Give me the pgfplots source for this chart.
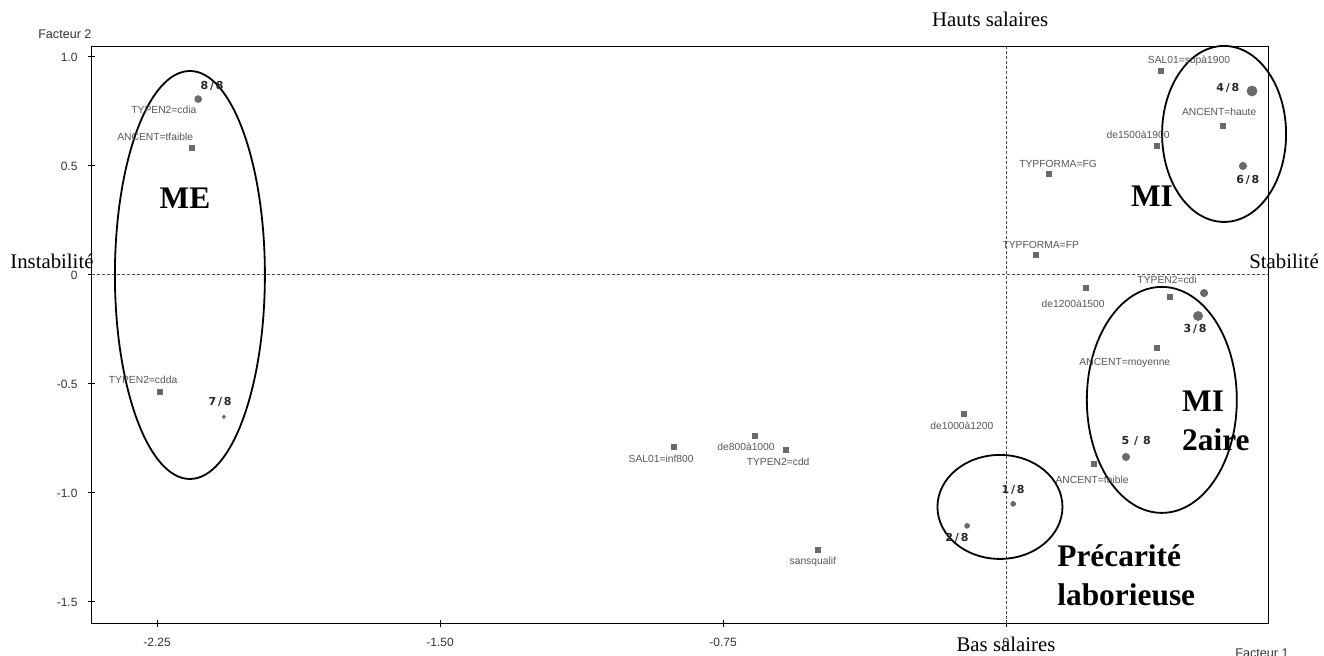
\documentclass[border=0pt]{standalone}
\usepackage{fontspec}
\setmainfont{Liberation Serif}
\newfontfamily\sans{Liberation Sans}
\newfontfamily\djs{DejaVu Sans}
\usepackage{pgfplots}
\pgfplotsset{compat=1.18}
\definecolor{lab}{HTML}{555555}
\definecolor{mk}{HTML}{6A6A6A}
\newcommand\fr[2]{#1\kern0.9pt/\kern0.9pt#2}
\begin{document}
\begin{tikzpicture}[
  lbl/.style={font=\sans\fontsize{5.15}{6}\selectfont, text=lab, inner sep=0pt},
  num/.style={font=\djs\bfseries\fontsize{5.5}{6}\selectfont, text=black!85, inner sep=0pt},
  big/.style={font=\bfseries\fontsize{15.7}{17}\selectfont, inner sep=0pt},
  outer/.style={font=\fontsize{10.4}{12}\selectfont, inner sep=0pt},
  sml/.style={font=\sans\fontsize{6.3}{7}\selectfont, text=black!80, inner sep=0pt}
]
\begin{axis}[
  at={(0,0)}, anchor=south west,
  scale only axis, width=588pt, height=288.5pt,
  xmin=-2.4225, xmax=0.6944, ymin=-1.601, ymax=1.0459,
  clip=false,
  axis line style={line width=0.5pt},
  xtick={-2.25,-1.5,-0.75,0}, xticklabels={-2.25,-1.50,-0.75,0},
  ytick={-1.5,-1,-0.5,0,0.5,1}, yticklabels={-1.5,-1.0,-0.5,0,0.5,1.0},
  xtick pos=left, ytick pos=left,
  tick align=center, major tick length=3.5pt,
  tick style={black, line width=0.5pt},
  ticklabel style={font=\sans\fontsize{6}{7}\selectfont, text=black!80},
  xticklabel style={yshift=-2pt},
  yticklabel style={xshift=-2pt},
]
% reference lines
\addplot[black!70, line width=0.5pt, dash pattern=on 1.5pt off 1pt] coordinates {(-2.4225,0) (0.6944,0)};
\addplot[black!70, line width=0.5pt, dash pattern=on 1.5pt off 1pt] coordinates {(0,-1.601) (0,1.0459)};
% modalities (squares)
\addplot[only marks, mark=square*, mark size=1.25pt, mk, mark options={draw=mk, fill=mk}] coordinates {
 (-2.157,0.583) (-2.242,-0.537) (-0.880,-0.789) (-0.665,-0.739) (-0.583,-0.803)
 (-0.498,-1.261) (-0.111,-0.638) (0.233,-0.867) (0.400,-0.335) (0.435,-0.101)
 (0.212,-0.060) (0.080,0.092) (0.114,0.465) (0.400,0.592) (0.411,0.937) (0.575,0.684)
};
% classes (circles)
\addplot[only marks, mark=*, mark size=2.5pt, mk, mark options={draw=mk, fill=mk}] coordinates {(0.652,0.844)};
\addplot[only marks, mark=*, mark size=2.25pt, mk, mark options={draw=mk, fill=mk}] coordinates {(0.509,-0.188)};
\addplot[only marks, mark=*, mark size=1.8pt, mk, mark options={draw=mk, fill=mk}] coordinates {(0.318,-0.835) (0.525,-0.083) (0.628,0.500)};
\addplot[only marks, mark=*, mark size=1.7pt, mk, mark options={draw=mk, fill=mk}] coordinates {(-2.141,0.807)};
\addplot[only marks, mark=*, mark size=1.2pt, mk, mark options={draw=mk, fill=mk}] coordinates {(-0.103,-1.151) (0.019,-1.050)};
\addplot[only marks, mark=*, mark size=0.8pt, mk, mark options={draw=mk, fill=mk}] coordinates {(-2.073,-0.651)};
% ellipses
\draw[line width=0.9pt] (axis cs:-2.163,0) ellipse [x radius=37.5pt, y radius=102pt];
\draw[line width=0.9pt] (axis cs:0.578,0.647) ellipse [x radius=31pt, y radius=44pt];
\draw[line width=0.9pt] (axis cs:0.413,-0.573) ellipse [x radius=37.5pt, y radius=56.5pt];
\draw[line width=0.9pt] (axis cs:-0.016,-1.064) ellipse [x radius=31.25pt, y radius=26pt];
% modality labels
\node[lbl] at (axis cs:-2.232,0.757) {TYPEN2=cdia};
\node[lbl] at (axis cs:-2.255,0.633) {ANCENT=tfaible};
\node[lbl] at (axis cs:-2.287,-0.482) {TYPEN2=cdda};
\node[lbl] at (axis cs:-0.914,-0.844) {SAL01=inf800};
\node[lbl] at (axis cs:-0.689,-0.789) {de800à1000};
\node[lbl] at (axis cs:-0.604,-0.858) {TYPEN2=cdd};
\node[lbl] at (axis cs:-0.512,-1.317) {sansqualif};
\node[lbl] at (axis cs:-0.117,-0.693) {de1000à1200};
\node[lbl] at (axis cs:0.228,-0.940) {ANCENT=faible};
\node[lbl] at (axis cs:0.315,-0.404) {ANCENT=moyenne};
\node[lbl] at (axis cs:0.427,-0.023) {TYPEN2=cdi};
\node[lbl] at (axis cs:0.178,-0.133) {de1200à1500};
\node[lbl] at (axis cs:0.092,0.138) {TYPFORMA=FP};
\node[lbl] at (axis cs:0.138,0.509) {TYPFORMA=FG};
\node[lbl] at (axis cs:0.350,0.642) {de1500à1900};
\node[lbl] at (axis cs:0.485,0.982) {SAL01=supà1900};
\node[lbl] at (axis cs:0.565,0.748) {ANCENT=haute};
% class labels
\node[num] at (axis cs:-2.104,0.867) {\fr{8}{8}};
\node[num] at (axis cs:-2.083,-0.583) {\fr{7}{8}};
\node[num] at (axis cs:-0.130,-1.206) {\fr{2}{8}};
\node[num] at (axis cs:0.019,-0.986) {\fr{1}{8}};
\node[num] at (axis cs:0.345,-0.761) {5\kern2.5pt/\kern2.5pt8};
\node[num] at (axis cs:0.501,-0.248) {\fr{3}{8}};
\node[num] at (axis cs:0.588,0.858) {\fr{4}{8}};
\node[num] at (axis cs:0.641,0.436) {\fr{6}{8}};
% big group labels
\node[big, anchor=base] at (axis cs:-2.176,0.307) {ME};
\node[big, anchor=base] at (axis cs:0.387,0.312) {MI};
\node[big, anchor=base west] at (axis cs:0.466,-0.628) {MI};
\node[big, anchor=base west] at (axis cs:0.466,-0.803) {2aire};
\node[big, anchor=base west] at (axis cs:0.135,-1.339) {Précarité};
\node[big, anchor=base west] at (axis cs:0.135,-1.514) {laborieuse};
% outer labels
\node[outer, anchor=base] at (axis cs:-0.042,1.138) {Hauts salaires};
\node[outer, anchor=base] at (axis cs:0,-1.725) {Bas salaires};
\node[outer, anchor=base west] at (axis cs:-2.640,0.032) {Instabilité};
\node[outer, anchor=base west] at (axis cs:0.644,0.032) {Stabilité};
\node[sml, anchor=base west] at (axis cs:-2.566,1.087) {Facteur 2};
\node[sml, anchor=base west] at (axis cs:0.607,-1.757) {Facteur 1};
\end{axis}
\pgfresetboundingbox
\useasboundingbox (-46pt,-16pt) rectangle (616pt,312pt);
\end{tikzpicture}
\end{document}
